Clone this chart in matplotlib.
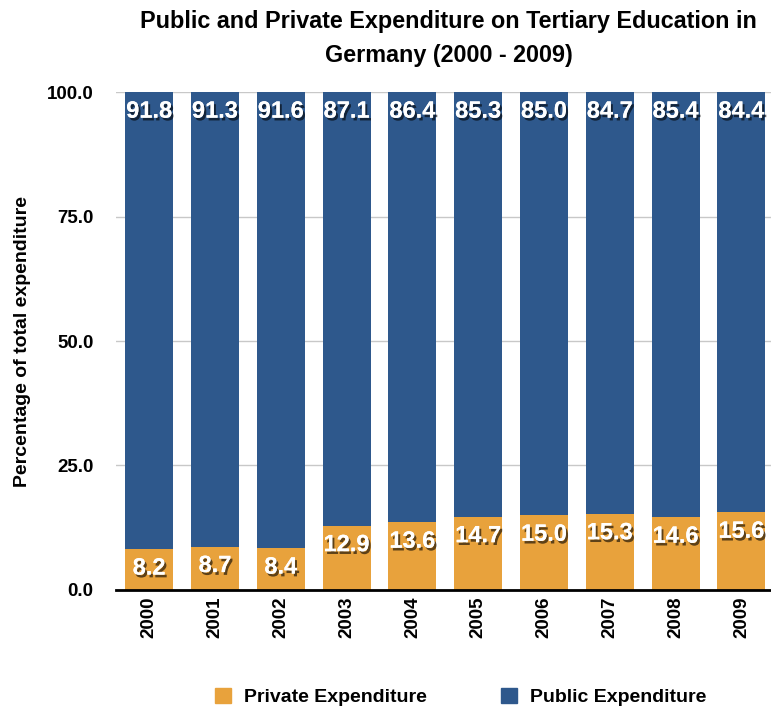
import matplotlib
matplotlib.use("Agg")
import matplotlib.pyplot as plt
import matplotlib.patheffects as pe
from matplotlib.patches import Patch
from matplotlib import font_manager

years = ["2000", "2001", "2002", "2003", "2004", "2005", "2006", "2007", "2008", "2009"]
private = [8.2, 8.7, 8.4, 12.9, 13.6, 14.7, 15.0, 15.3, 14.6, 15.6]
public = [91.8, 91.3, 91.6, 87.1, 86.4, 85.3, 85.0, 84.7, 85.4, 84.4]
yticks = [0.0, 25.0, 50.0, 75.0, 100.0]

names = {f.name for f in font_manager.fontManager.ttflist}
base = "Liberation Sans" if "Liberation Sans" in names else "DejaVu Sans"
plt.rcParams["font.family"] = base

c_priv = "#E8A23C"
c_pub = "#2E588C"

fig = plt.figure(figsize=(7.71, 7.09), dpi=100)
ax = fig.add_axes([0.150, 0.168, 0.850, 0.702])

x = list(range(len(years)))
w = 0.73
ax.bar(x, private, width=w, color=c_priv, zorder=3)
ax.bar(x, public, width=w, bottom=private, color=c_pub, zorder=3)

shadow = [pe.withSimplePatchShadow(offset=(1.5, -2), shadow_rgbFace="black", alpha=0.6), pe.Normal()]
for i in x:
    ax.annotate(f"{private[i]:.1f}", (i, private[i]), xytext=(0, -19), textcoords="offset pixels",
                ha="center", va="center", color="white", fontsize=17, fontweight="bold",
                path_effects=shadow, zorder=5, annotation_clip=False)
    ax.annotate(f"{public[i]:.1f}", (i, private[i] + public[i]), xytext=(0, -19), textcoords="offset pixels",
                ha="center", va="center", color="white", fontsize=17, fontweight="bold",
                path_effects=shadow, zorder=5, annotation_clip=False)

ax.set_xlim(-0.51, 9.45)
ax.set_ylim(0, 100)
ax.set_yticks(yticks)
ax.set_yticklabels([f"{v:.1f}" for v in yticks], fontsize=13.5, fontweight="bold")
ax.set_xticks(x)
ax.set_xticklabels(years, rotation=90, fontsize=13.5, fontweight="bold")
ax.tick_params(axis="y", length=0, pad=16)
ax.tick_params(axis="x", length=0, pad=5)
ax.yaxis.grid(True, color="#c8c8c8", linewidth=1, zorder=0)
ax.set_axisbelow(True)
for s in ["left", "right", "top"]:
    ax.spines[s].set_visible(False)
ax.spines["bottom"].set_linewidth(2)
ax.spines["bottom"].set_color("black")
ax.spines["bottom"].set_zorder(4)

ax.set_ylabel("Percentage of total expenditure", fontsize=14, fontweight="bold", labelpad=11)

fig.text(0.582, 0.946, "Public and Private Expenditure on Tertiary Education in\nGermany (2000 - 2009)",
         ha="center", va="center", fontsize=16.8, fontweight="bold", linespacing=1.6)

handles = [Patch(color=c_priv, label="Private Expenditure"), Patch(color=c_pub, label="Public Expenditure")]
fig.legend(handles=handles, loc="center", bbox_to_anchor=(461 / 771, 1 - 697 / 709), ncol=2,
           frameon=False, prop={"weight": "bold", "size": 14}, handlelength=0.8, handleheight=0.8,
           handletextpad=0.7, columnspacing=3.8)

fig.savefig("out.png", dpi=100)
